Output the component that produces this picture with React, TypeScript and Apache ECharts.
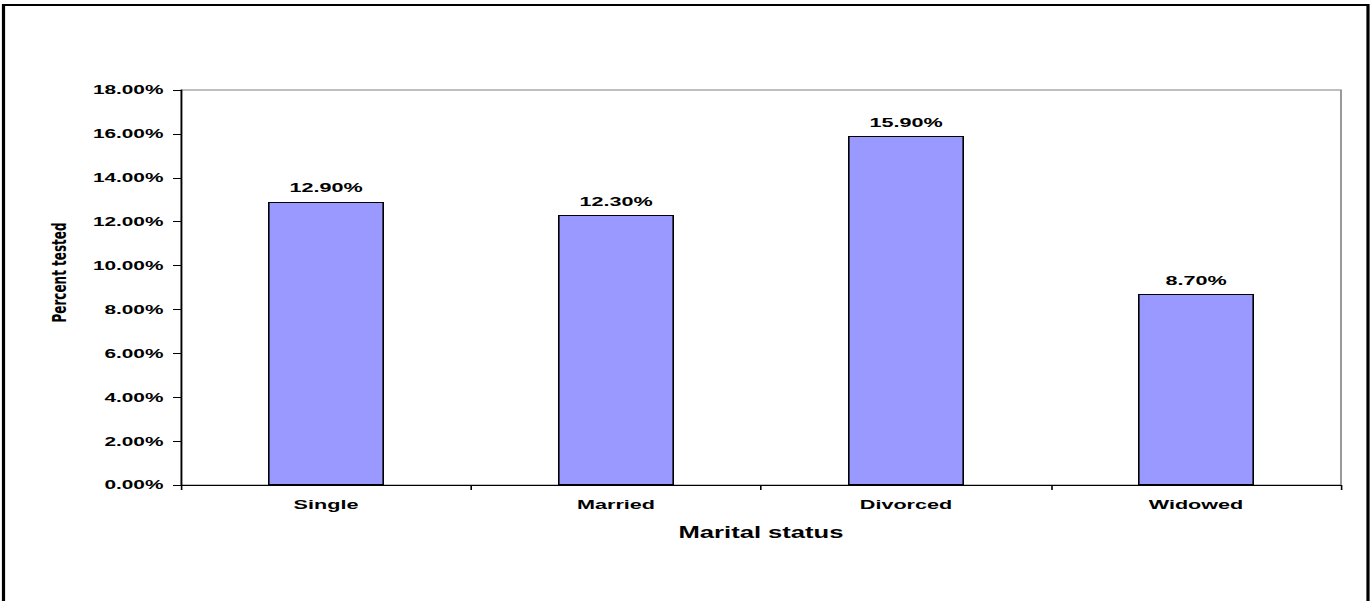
import React, { useEffect, useRef } from "react";
import * as echarts from "echarts";

// Chart data
const categories = ["Single", "Married", "Divorced", "Widowed"];
const percentTested = [12.9, 12.3, 15.9, 8.7];
const yMin = 0;
const yMax = 18;
const yStep = 2;

// The chart is laid out in a narrower box and widened horizontally,
// giving the broad, stretched lettering of the original sheet.
const PAGE_W = 1372;
const PAGE_H = 601;
const STRETCH = 1.6;
const CHART_W = PAGE_W / STRETCH;

const FONT = "'Liberation Sans', Arial, sans-serif";
const pct = (v: number) => `${v.toFixed(2)}%`;

export default function App() {
  const ref = useRef<HTMLDivElement>(null);

  useEffect(() => {
    if (!ref.current) return;
    const chart = echarts.init(ref.current, null, {
      renderer: "svg",
      width: CHART_W,
      height: PAGE_H,
    });

    chart.setOption({
      animation: false,
      backgroundColor: "#ffffff",
      graphic: [
        {
          type: "rect",
          shape: { x: 3.5 / STRETCH, y: 5, width: (1368 - 3.5) / STRETCH, height: 700 },
          style: { fill: "none", stroke: "#000", lineWidth: 2 },
          silent: true,
        },
      ],
      grid: {
        left: 181 / STRETCH,
        right: (PAGE_W - 1341) / STRETCH,
        top: 90,
        bottom: PAGE_H - 485,
        show: true,
        borderColor: "#808080",
        borderWidth: 1,
        backgroundColor: "transparent",
      },
      xAxis: {
        type: "category",
        data: categories,
        boundaryGap: true,
        name: "Marital status",
        nameLocation: "middle",
        nameGap: 40,
        nameTextStyle: {
          fontFamily: FONT,
          fontWeight: "bold",
          fontSize: 16,
          color: "#000",
        },
        axisLine: { lineStyle: { color: "#000", width: 1 } },
        axisTick: { show: true, length: 5, lineStyle: { color: "#000" } },
        axisLabel: {
          fontFamily: FONT,
          fontWeight: "bold",
          fontSize: 13.5,
          color: "#000",
          margin: 12,
        },
        splitLine: { show: false },
      },
      yAxis: {
        type: "value",
        min: yMin,
        max: yMax,
        interval: yStep,
        name: "Percent tested",
        nameLocation: "middle",
        nameGap: 70,
        nameTextStyle: {
          fontFamily: "'DejaVu Sans', sans-serif",
          fontWeight: "bold",
          fontSize: 12,
          color: "#000",
          // left padding nudges the rotated title a little above centre
          padding: [0, 0, 0, 30],
        },
        axisLine: { show: true, lineStyle: { color: "#000", width: 1 } },
        axisTick: { show: true, length: 5, lineStyle: { color: "#000" } },
        axisLabel: {
          fontFamily: FONT,
          fontWeight: "bold",
          fontSize: 13,
          color: "#000",
          margin: 11,
          formatter: (v: number) => pct(v),
        },
        splitLine: { show: false },
      },
      series: [
        {
          type: "bar",
          data: percentTested,
          barWidth: "40%",
          itemStyle: {
            color: "#9999FF",
            borderColor: "#000",
            borderWidth: 1,
          },
          label: {
            show: true,
            position: "top",
            distance: 7,
            fontFamily: FONT,
            fontWeight: "bold",
            fontSize: 13.5,
            color: "#000",
            formatter: (p: any) => pct(p.value),
          },
        },
      ],
    });

    return () => chart.dispose();
  }, []);

  return (
    <div
      style={{
        position: "absolute",
        left: 0,
        top: 0,
        width: PAGE_W,
        height: PAGE_H,
        overflow: "hidden",
        background: "#fff",
      }}
    >
      <div
        ref={ref}
        style={{
          width: CHART_W,
          height: PAGE_H,
          transform: `scaleX(${STRETCH})`,
          transformOrigin: "0 0",
        }}
      />
    </div>
  );
}
